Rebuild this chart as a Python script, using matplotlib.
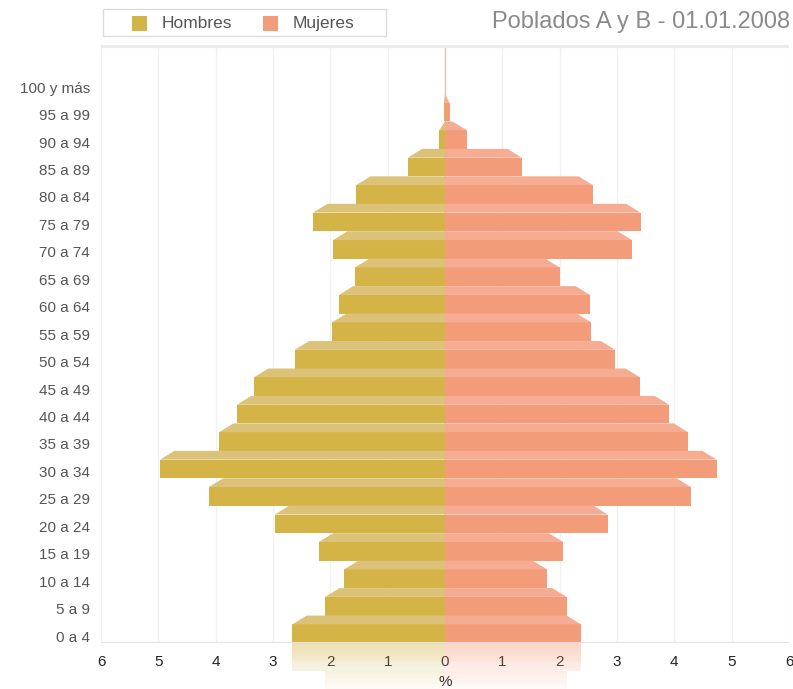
import matplotlib
matplotlib.use("Agg")
import matplotlib.pyplot as plt
from matplotlib.patches import Rectangle
import numpy as np

plt.rcParams['font.family'] = ['Liberation Sans', 'DejaVu Sans']

# age groups, bottom to top
grupos = ['0 a 4', '5 a 9', '10 a 14', '15 a 19', '20 a 24', '25 a 29', '30 a 34',
          '35 a 39', '40 a 44', '45 a 49', '50 a 54', '55 a 59', '60 a 64', '65 a 69',
          '70 a 74', '75 a 79', '80 a 84', '85 a 89', '90 a 94', '95 a 99', '100 y más']
# % of population
hombres = [2.66, 2.09, 1.76, 2.20, 2.97, 4.12, 4.97, 3.94, 3.63, 3.33, 2.62,
           1.97, 1.85, 1.57, 1.95, 2.30, 1.55, 0.65, 0.10, 0.02, 0.0]
mujeres = [2.37, 2.12, 1.78, 2.06, 2.84, 4.29, 4.74, 4.24, 3.91, 3.40, 2.97,
           2.55, 2.53, 2.00, 3.26, 3.41, 2.58, 1.34, 0.38, 0.08, 0.0]
xticks = [-6, -5, -4, -3, -2, -1, 0, 1, 2, 3, 4, 5, 6]

c_h, c_h_top = '#d5b447', '#dbc278'
c_m, c_m_top = '#f29c79', '#f5ac92'
front = 0.68   # share of the band used by the front face of each bar
slant = 0.25   # horizontal shift of the top face

fig = plt.figure(figsize=(7.93, 6.89), dpi=100)
ax = fig.add_axes([101/793, 46/689, 688/793, 598/689])
ytop = -0.5 + 598/27.45
ax.set_xlim(-6, 6)
ax.set_ylim(-0.5, ytop)
ax.set_axisbelow(True)
for s in ax.spines.values():
    s.set_visible(False)

# grid and centre line
ax.vlines(xticks, -0.5, ytop, color='#f1f1f1', lw=1, zorder=0)
ax.axvline(0, color='#d2cbbd', lw=1, zorder=0.5)
ax.axhline(ytop - 0.04, color='#ebebeb', lw=3, zorder=0.5)
ax.axhline(-0.5, color='#e2e2e2', lw=1.5, zorder=3)

y = np.arange(len(grupos))
lo = y - 0.5
# front faces
ax.barh(lo, [-v for v in hombres], height=front, align='edge', color=c_h, lw=0, zorder=1)
ax.barh(lo, mujeres, height=front, align='edge', color=c_m, lw=0, zorder=1)
# top faces with a slanted outer corner
for i in range(len(grupos)):
    y0, y1 = lo[i] + front, lo[i] + 1
    v = hombres[i]
    if v > 0:
        d = min(slant, v)
        ax.fill([0, -v, -v + d, 0], [y0, y0, y1, y1], color=c_h_top, lw=0, zorder=1)
    v = mujeres[i]
    if v > 0:
        d = min(slant, v)
        ax.fill([0, v, v - d, 0], [y0, y0, y1, y1], color=c_m_top, lw=0, zorder=1)

# faded reflection under the baseline
ybot = -0.5 - 46/27.45
step = 0.06
for yb in np.arange(-0.5 - step, ybot - step, -step):
    src = -1 - (yb + step/2)
    i = int(round(src))
    if i >= len(grupos):
        continue
    top_face = src > lo[i] + front
    a = 0.42 * (1 - (-0.5 - yb) / 1.9)
    ch = c_h_top if top_face else c_h
    cm = c_m_top if top_face else c_m
    ax.barh(yb, -hombres[i], height=step, align='edge', color=ch, alpha=a, lw=0,
            clip_on=False, zorder=0.6)
    ax.barh(yb, mujeres[i], height=step, align='edge', color=cm, alpha=a, lw=0,
            clip_on=False, zorder=0.6)

ax.set_xticks(xticks, [str(abs(t)) for t in xticks])
ax.set_yticks(y - 0.25, grupos)
ax.tick_params(axis='x', length=0, pad=9, labelsize=11, labelcolor='#222222')
ax.tick_params(axis='y', length=0, pad=8, labelsize=11, labelcolor='#555555')
ax.set_xlabel('%', fontsize=11, color='#222222', labelpad=4)

# title and legend
fig.text(790/793, 1 - 22/689, 'Poblados A y B - 01.01.2008', ha='right', va='center',
         fontsize=17, color='#8a8a8a')
fig.patches.append(Rectangle((103/793, 1 - 36/689), 283/793, 27/689, transform=fig.transFigure,
                             fill=False, ec='#dcdcdc', lw=1))
for x0, col, lab in [(132, c_h, 'Hombres'), (263, c_m, 'Mujeres')]:
    fig.patches.append(Rectangle((x0/793, 1 - 31/689), 15/793, 15/689,
                                 transform=fig.transFigure, color=col, lw=0))
    fig.text((x0 + 30)/793, 1 - 23.5/689, lab, ha='left', va='center',
             fontsize=12.5, color='#555555')

fig.savefig('out.png', dpi=100)
